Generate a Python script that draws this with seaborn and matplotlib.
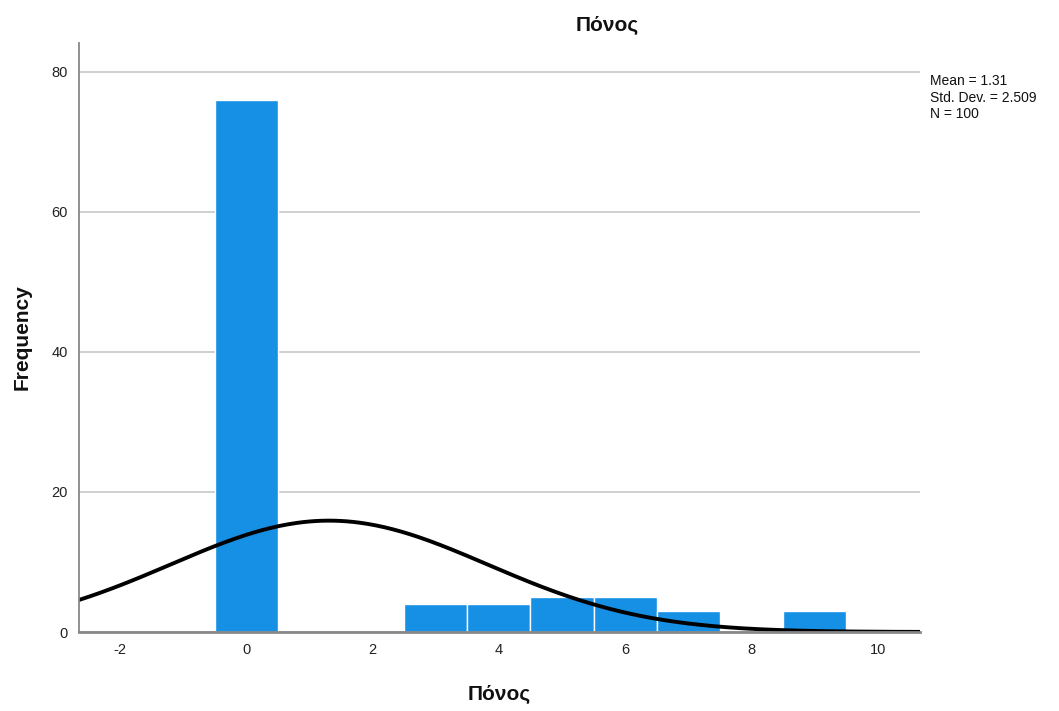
import numpy as np
import pandas as pd
import matplotlib
matplotlib.use("Agg")
import matplotlib.pyplot as plt
import seaborn as sns

# Data
values = [0, 3, 4, 5, 6, 7, 9]
counts = [76, 4, 4, 5, 5, 3, 3]
mean_val = 1.31
std_val = 2.509
n_val = 100
x_ticks = [-2, 0, 2, 4, 6, 8, 10]
y_ticks = [0, 20, 40, 60, 80]
title = "Πόνος"
xlabel = "Πόνος"
ylabel = "Frequency"

sns.set_theme(style="white")
plt.rcParams['font.family'] = ['Liberation Sans', 'DejaVu Sans']
plt.rcParams['axes.unicode_minus'] = False

df = pd.DataFrame({"Πόνος": np.repeat(values, counts)})

fig = plt.figure(figsize=(10.59, 7.11), dpi=100)
ax = fig.add_axes([79/1059, 1-632/711, (920-79)/1059, (632-43)/711])

ax.set_axisbelow(True)
ax.yaxis.grid(True, color="#cccccc", linewidth=1.3)
ax.xaxis.grid(False)

sns.histplot(data=df, x="Πόνος", bins=np.arange(-0.5, 10.5, 1.0),
             color="#1590E5", alpha=1.0, edgecolor="white", linewidth=1.0, ax=ax)

xs = np.linspace(-2.65, 10.67, 400)
pdf = n_val * 1.0 / (std_val * np.sqrt(2 * np.pi)) * np.exp(-0.5 * ((xs - mean_val) / std_val) ** 2)
sns.lineplot(x=xs, y=pdf, color="black", linewidth=2.8, ax=ax)

ax.set_xlim(-2.65, 10.67)
ax.set_ylim(0, 84.1)
ax.set_xticks(x_ticks)
ax.set_yticks(y_ticks)
ax.tick_params(axis="both", length=0, labelsize=10.5, colors="#222222", pad=8)
for s in ["top", "right"]:
    ax.spines[s].set_visible(False)
ax.spines["left"].set_color("#888888")
ax.spines["left"].set_linewidth(1.3)
ax.spines["bottom"].set_color("#888888")
ax.spines["bottom"].set_linewidth(2.0)

ax.set_xlabel(xlabel, fontsize=15, fontweight="bold", labelpad=20, color="#111111")
ax.set_ylabel(ylabel, fontsize=15, fontweight="bold", labelpad=14, color="#111111")

fig.text(607/1059, 1-25/711, title, ha="center", va="center", fontsize=15,
         fontweight="bold", color="#111111")
fig.text(930/1059, 1-74/711,
         f"Mean = {mean_val}\nStd. Dev. = {std_val}\nN = {n_val}",
         ha="left", va="top", fontsize=10, linespacing=1.25, color="#111111")

fig.savefig("out.png", dpi=100)
